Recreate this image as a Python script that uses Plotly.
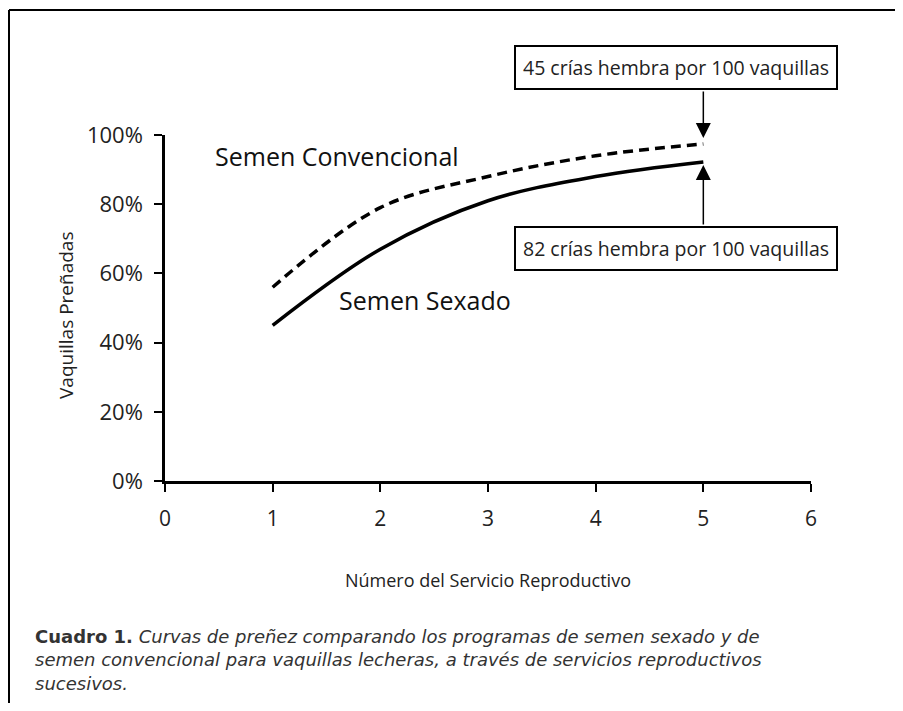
import plotly.graph_objects as go

# ---- data ----
servicio = [1, 2, 3, 4, 5]
convencional = [56, 79, 88, 94, 97.4]
sexado = [45, 67, 81, 88, 92.2]
x_ticks = [0, 1, 2, 3, 4, 5, 6]
y_ticks = [0, 20, 40, 60, 80, 100]
y_tick_labels = ["0%", "20%", "40%", "60%", "80%", "100%"]
caption_text = ("<b>Cuadro 1.</b> <i>Curvas de preñez comparando los programas de semen sexado y de</i><br>"
                "<i>semen convencional para vaquillas lecheras, a través de servicios reproductivos</i><br>"
                "<i>sucesivos.</i>")

# page has an 8px body margin, so the figure is 16px smaller than the window
W, H = 887, 695
L, T = 157, 127
pw, ph = 646, 346
R, B = W - L - pw, H - T - ph
OFF = 8

def px(xs):  # screen x -> paper
    return (xs - OFF - L) / pw

def py(ys):  # screen y -> paper
    return (H - B - (ys - OFF)) / ph

FONT = "Open Sans"
TXT = "#222"

fig = go.Figure()
fig.add_trace(go.Scatter(x=servicio, y=convencional, mode="lines",
                         line=dict(color="black", width=3.5, dash="10px,6px", shape="spline"),
                         name="Semen Convencional", showlegend=False))
fig.add_trace(go.Scatter(x=servicio, y=sexado, mode="lines",
                         line=dict(color="black", width=3.5, shape="spline"),
                         name="Semen Sexado", showlegend=False))

fig.update_layout(
    width=W, height=H, margin=dict(l=L, r=R, t=T, b=B),
    paper_bgcolor="white", plot_bgcolor="white",
    font=dict(family=FONT, color=TXT),
    xaxis=dict(range=[0, 6], tickvals=x_ticks, showgrid=False, zeroline=False,
               showline=True, linecolor="black", linewidth=2.5,
               ticks="outside", ticklen=8, tickwidth=2, tickcolor="black",
               tickfont=dict(size=21, family=FONT, color=TXT), ticklabelstandoff=9),
    yaxis=dict(range=[0, 100], tickvals=y_ticks, ticktext=y_tick_labels, showgrid=False,
               zeroline=False, showline=True, linecolor="black", linewidth=2.5,
               ticks="outside", ticklen=8, tickwidth=2, tickcolor="black",
               tickfont=dict(size=22, family=FONT, color=TXT), ticklabelstandoff=7),
)

ann = []
ann.append(dict(x=px(66), y=47.7, xref="paper", yref="y", xanchor="center", yanchor="middle",
                text="Vaquillas Preñadas", textangle=-90, showarrow=False,
                font=dict(size=19, family=FONT, color=TXT)))
ann.append(dict(x=3, y=py(580), xref="x", yref="paper", xanchor="center", yanchor="middle",
                text="Número del Servicio Reproductivo",
                showarrow=False, font=dict(size=18, family=FONT, color=TXT)))
ann.append(dict(x=0.446, y=93.9, xref="x", yref="y", text="Semen Convencional", xanchor="left",
                yanchor="middle", showarrow=False, font=dict(size=25, family=FONT, color="#111")))
ann.append(dict(x=1.6, y=52.3, xref="x", yref="y", text="Semen Sexado", xanchor="left",
                yanchor="middle", showarrow=False, font=dict(size=25, family=FONT, color="#111")))
ann.append(dict(x=px(838), y=py(67), xref="paper", yref="paper", xanchor="right", yanchor="middle",
                text="45 crías hembra por 100 vaquillas", showarrow=False,
                bordercolor="black", borderwidth=2, borderpad=7, bgcolor="white",
                font=dict(size=19.5, family=FONT, color=TXT)))
ann.append(dict(x=px(838), y=py(248.5), xref="paper", yref="paper", xanchor="right", yanchor="middle",
                text="82 crías hembra por 100 vaquillas", showarrow=False,
                bordercolor="black", borderwidth=2, borderpad=7, bgcolor="white",
                font=dict(size=19.5, family=FONT, color=TXT)))
ann.append(dict(x=5, y=99.1, xref="x", yref="y", text="", showarrow=True,
                ax=0, ay=-48, arrowhead=2, arrowsize=2, arrowwidth=1.5, arrowcolor="black"))
ann.append(dict(x=5, y=91.3, xref="x", yref="y", text="", showarrow=True,
                ax=0, ay=61, arrowhead=2, arrowsize=2, arrowwidth=1.5, arrowcolor="black"))
ann.append(dict(x=px(33), y=py(624), xref="paper", yref="paper",
                xanchor="left", yanchor="top", align="left", showarrow=False,
                font=dict(size=18, family="DejaVu Sans", color="#333"), text=caption_text))
fig.update_layout(annotations=ann)

# frame (left and top rules)
fig.add_shape(type="line", xref="paper", yref="paper", x0=px(9), x1=px(9), y0=py(10), y1=py(720),
              line=dict(color="black", width=2))
fig.add_shape(type="line", xref="paper", yref="paper", x0=px(9), x1=px(910), y0=py(10), y1=py(10),
              line=dict(color="black", width=2))

fig.write_html("out.html")
